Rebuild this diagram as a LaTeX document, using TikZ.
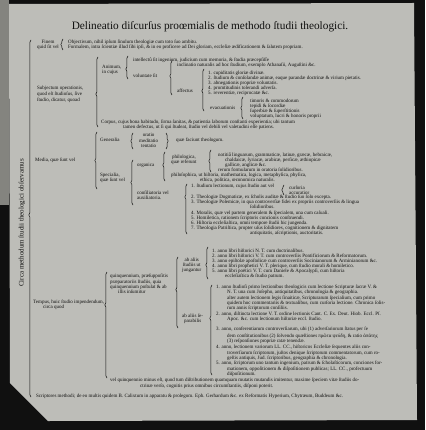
\documentclass[tikz,border=0pt]{standalone}
\usepackage{fontspec}
\setmainfont{Liberation Serif}
\usetikzlibrary{decorations.pathreplacing}
\definecolor{paper}{RGB}{189,189,184}
\definecolor{ink}{RGB}{16,16,15}
\definecolor{edge}{RGB}{16,16,16}
\definecolor{strip}{RGB}{132,132,127}
\tikzset{
  ln/.style={anchor=base west,inner sep=0pt,text=ink,font=\fontsize{5}{5.2}\selectfont},
  ml/.style={anchor=west,inner sep=0pt,text=ink,font=\fontsize{5}{5.2}\selectfont,align=left},
  brc/.style={draw=ink,line width=0.5pt,decorate,decoration={brace,amplitude=2.2pt,aspect=#1}},
  brc/.default=0.5
}
\begin{document}
\begin{tikzpicture}[x=1pt,y=-1pt]
        \useasboundingbox (0,0) rectangle (425,430);
        \fill[edge] (0,0) rectangle (425,430);
        \fill[strip] (0,0) rectangle (9,205);
        \fill[paper] (9,4) -- (414,3) -- (417,420) -- (48,421) -- (10,383) -- cycle;

        \node[anchor=base,inner sep=0pt,text=ink,font=\fontsize{11.3}{13}\selectfont] (title) at (210,30) {Delineatio diſcurſus proœmialis de methodo ſtudii theologici.};
        \node[rotate=90,inner sep=0pt,text=ink,font=\fontsize{7}{8}\selectfont] (circa) at (22,223) {Circa methodum ſtudii theologici obſervamus};
        \draw[brc=0.51] (31,397) -- (31,40);

        % finis
        \node[ml,align=center] (finem) at (37,44.5) {Finem\\quid ſit vel};
        \draw[brc] (63,50) -- (63,39);
        \node[ln] (obj) at (68,44) {Objectivum, nihil ipſum ſinulum theologiæ cum toto ſuo ambitu.};
        \node[ln] (form) at (68,48.5) {Formalem, intra ſcientiæ illud ſibi ipſi, \& in eo proficere ad Dei gloriam, eccleſiæ ædificationem \& ſalutem propriam.};

        % subjectum
        \node[ml] (subj) at (37,94) {Subjectum operationis,\\[0.8pt]quod eſt ſtudioſus, ſive\\[0.8pt]ſtudio, dicatur, quoad};
        \draw[brc=0.47] (98,127) -- (98,57);
        \node[ml] (animum) at (102,69.5) {Animum,\\in cujus};
        \draw[brc=0.43] (128,79) -- (128,56);
        \node[ln] (intel) at (133,61.4) {intellectû ſit ingenium, judicium cum memoria, \& ſtudia præcepſiſſe};
        \node[ln] (volunt) at (133,77.4) {voluntate ſit};
        \draw[brc=0.56] (172,95) -- (172,61);
        \node[ln] (inclin) at (177,66.4) {inclinatio naturalis ad hoc ſtudium, exemplo Athanaſii, Auguſtini \&c.};
        \node[ln] (affect) at (177,92.4) {affectus};
        \draw[brc=0.48] (204,111) -- (204,69);
        \foreach \t [count=\i] in {{1. cupiditatis gloriæ divinæ.},
            {2. ſtudium \& conſolandæ animæ, eaque parandæ doctrinæ \& virium pietatis.},
            {3. abnegationis propriæ voluntatis.},
            {4. promtitudinis tolerandi adverſa.},
            {5. reverentiæ, reciprocatæ \&c.}}
            \node[ln] (aff\i) at (208,{69.4+5*\i}) {\t};
        \node[ln] (evac) at (210,109.4) {evacuationis};
        \draw[brc] (243,119) -- (243,97);
        \foreach \t [count=\i] in {{timoris \& commodorum},{tepidi \& ſocordiæ},
            {ſuperbiæ \& ſuperſtitionis},{voluptatum, lucri \& honoris proprii}}
            \node[ln] (evac\i) at (250,{97.4+5*\i}) {\t};
        \node[ln] (corpus) at (101,123.4) {Corpus, cujus bona habitudo, ſirma ſanitas, \& patientia laborum conſtanti experientia; ubi tantum};
        \node[ln] (corpusb) at (123,128.4) {tamen defectus, ut ſi qui ſtudeat, ſtudio vel debili vel valetudini eſſe patiens.};

        % media
        \node[ln] (media) at (35,161.4) {Media, quæ ſunt vel};
        \draw[brc] (97,189) -- (97,132);
        \node[ln] (gener) at (100,141.4) {Generalia};
        \draw[brc] (133,149) -- (133,133);
        \node[ml,align=center] (orat) at (139,140.5) {oratio\\meditatio\\tentatio};
        \draw[brc] (166,133) -- (166,149);
        \node[ln] (facit) at (176,141.4) {quæ faciunt theologum.};
        \node[ml] (spec) at (100,177.5) {Specialia,\\quæ ſunt vel};
        \draw[brc] (133,205) -- (133,160);
        \node[ln] (organ) at (137,166.4) {organica};
        \draw[brc=0.55] (165,181) -- (165,152);
        \node[ml,align=center] (philol) at (171,159.5) {philologica,\\quæ referunt};
        \draw[brc] (211,172) -- (211,150);
        \node[ln] (lingua) at (218,156.4) {notitiâ linguarum, grammaticæ, latinæ, græcæ, hebraicæ,};
        \node[ln] (linguab) at (225,161.4) {chaldaicæ, ſyriacæ, arabicæ, perſicæ, æthiopicæ};
        \node[ln] (linguac) at (225,166.4) {gallicæ, anglicæ \&c.};
        \node[ln] (rerum) at (218,171.4) {rerum formularum in oratoria ſolidioribus.};
        \node[ln] (philos) at (171,176.4) {philoſophica, ut hiſtoria, mathematica, logica, metaphyſica, phyſica,};
        \node[ln] (philosb) at (200,181.4) {ethica, politica, œconomica naturalis.};
        \node[ml] (consil) at (137,195.5) {conſiliatoria vel\\auxiliatoria.};
        \draw[brc=0.74] (187,234) -- (187,184);
        \node[ln] (lect) at (191,187.4) {1. ſtudium lectionum, cujus ſtudio aut vel};
        \draw[brc] (284,195) -- (284,185);
        \node[ml] (curs) at (289,190.5) {curſoria\\accuratior};
        \node[ln] (dogm) at (191,198.4) {2. Theologiæ Dogmaticæ, ex ſcholis auditæ \& ſtudio ſuo ſolo excepta.};
        \node[ln] (polem) at (191,203.4) {3. Theologiæ Polemicæ, in qua controverſiæ fidei ex propriis controverſiis \& lingua};
        \node[ln] (polemb) at (250,208.9) {ſolidioribus.};
        \node[ln] (moral) at (191,214.4) {4. Moralis, quæ vel partem generalem \& ſpecialem, una cum caſuali.};
        \node[ln] (homil) at (191,219.4) {5. Homiletica, rationem ſcriptoris concionis conſtruendi.};
        \node[ln] (hiſt) at (191,224.4) {6. Hiſtoria eccleſiaſtica, omni tempore ſtudii hic jungenda.};
        \node[ln] (patr) at (191,229.4) {7. Theologia Patriſtica, propter uſus ſolidiores, cognitionem \& dignitatem};
        \node[ln] (patrb) at (250,234.4) {antiquitatis, aſcriptionis, auctoritatis.};

        % tempus
        \node[ml] (tempus) at (33,304.5) {Tempus, huic ſtudio impendendum,\\\hspace*{10pt}circa quod};
        \draw[brc=0.69] (107,378) -- (107,272);
        \node[ml] (quinq) at (110,284) {quinquennium, præſuppoſitis\\[0.2pt]præparatoriis ſtudiis, quia\\[0.2pt]quinquennium poſtulat \& ab\\[0.2pt]\hspace*{8pt}illis inſumitur};
        \draw[brc=0.54] (178,328) -- (178,257);
        \node[ml,align=center] (jung) at (182,265.5) {ab aliis\\ſtudiis ut\\jungantur};
        \node[ml,align=center] (separ) at (182,318.5) {ab aliis ſe-\\parabilis};
        \draw[brc=0.44] (208,279) -- (208,247);
        \foreach \t [count=\i] in {{1. anno libri hiſtorici N. T. cum doctrinalibus.},
            {2. anno libri hiſtorici V. T. cum controverſiis Pontificiorum \& Reformatorum.},
            {3. anno epiſtolæ apoſtolicæ cum controverſiis Socinianorum \& Arminianorum \&c.},
            {4. anno libri prophetici V. T. plerique, cum ſtudio morali \& homiletico.},
            {5. anno libri poëtici V. T. cum Daniele \& Apocalypſi, cum hiſtoria}}
            \node[ln] (annoa\i) at (212,{247.4+5*\i}) {\t};
        \node[ln] (annoa6) at (225,277.4) {eccleſiaſtica \& ſtudio patrum.};
        \draw[brc=0.63] (212,375) -- (212,285);
        \node[ln] (annob1) at (216,288.4) {1. anno ſtudioſi primo lectionibus theologicis cum lectione Scripturæ ſacræ V. \&};
        \node[ml] (annob1b) at (227,300.5) {N. T. una cum Joſepho, antiquitatibus, chronologia \& geographia.\\alter autem lectionem legis ſinaiticæ, Scripturarum ſpecialium, cum primo\\quidem hoc commentariis \& textualibus, cum curſoria lectione. Chronica ſolis-\\rum annis ſcriptorum conſiliis.};
        \node[ln] (annob2) at (216,315.4) {2. anno, diſtincta lectione V. T. ordine lectionis Cant. C. Ex. Deut. Hiob. Eccl. Pſ.};
        \node[ln] (annob2b) at (227,320.4) {Apoc. \&c. cum lectionum hiſtoriæ eccl. ſtudio.};
        \node[ln] (annob3) at (216,330.4) {3. anno, conferentiarum controverſiarum, ubi (1) adverſariorum ſtatus per ſe};
        \node[ml] (annob3b) at (227,338.5) {dem conſtitutionibus (2) ſolvendo quæſtiones πρῶτα ψεύδη, \& ratio ἀπάτης\\(3) reſponſiones propriæ ratæ tenendæ.};
        \node[ln] (annob4) at (216,348.4) {4. anno, lectionem variorum LL. CC., hiſtoricos Eccleſiæ ſequentes aliis con-};
        \node[ml] (annob4b) at (227,356) {troverſiarum ſcriptorum, juſtos denique ſcriptorum commentatorum, cum ro-\\geſtis antiquis, Jud. ſcriptoribus, geographia \& chronologia.};
        \node[ln] (annob5) at (216,364.4) {5. anno, ſcriptorum uno tantum ingenium, patrum \& ſcholaſticorum, conciones for-};
        \node[ml] (annob5b) at (227,372) {mationem, oppoſitionem \& diſpoſitionem publicas; LL. CC., profectuum\\diſpoſitionum.};
        \node[ln] (minus) at (110,381.4) {vel quinquennio minus eſt, quod tum diſtributionem quamquam mutatis mutandis imitentur, maxime ſpeciem vitæ ſtudiis do-};
        \node[ln] (minusb) at (140,387.4) {ctrinæ verſo, cognitis prius omnibus circumſtantiis, diſponi poterit.};

        % scriptores
        \node[ln] (script) at (36,397.4) {Scriptores methodi; de eo multis quidem B. Calixtum in apparatu \& prolegom. Eph. Gerhardum \&c. ex Reformatis Hyperium, Chytræum, Buddeum \&c.};
    \end{tikzpicture}
\end{document}
